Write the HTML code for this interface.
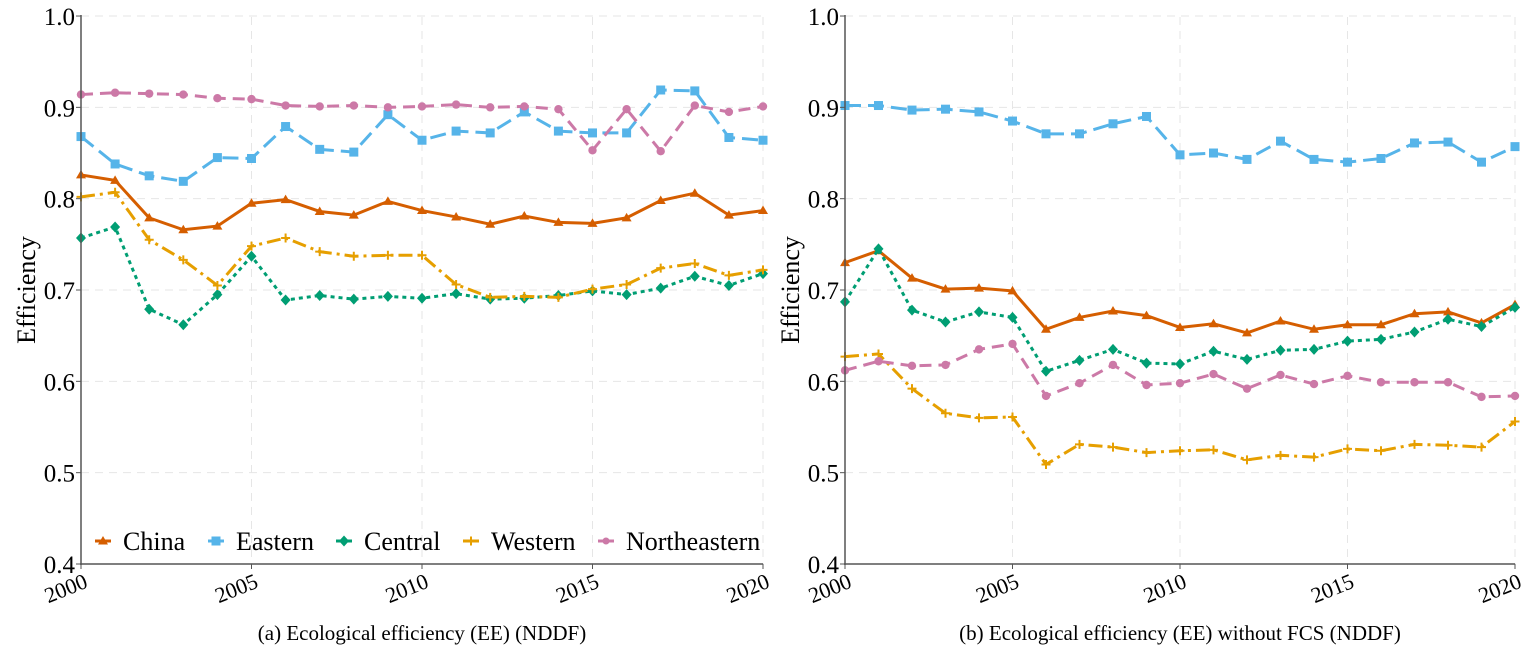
<!DOCTYPE html><html><head><style>body{margin:0;background:#fff}svg{display:block}</style></head><body>
<svg id="s" width="1535" height="655" xmlns="http://www.w3.org/2000/svg" font-family="Liberation Serif, serif"></svg>
<script>
const S=document.getElementById('s');let h='';
const cols={China:'#d55e00',Eastern:'#56b4e9',Central:'#009e73',Western:'#e69f00',Northeastern:'#cc79a7'};
const dash={China:'',Eastern:'16,7',Central:'4,4',Western:'14,5,3,5',Northeastern:'12,7'};
const A={China:[.826,.820,.779,.766,.770,.795,.799,.786,.782,.797,.787,.780,.772,.781,.774,.773,.779,.798,.806,.782,.787],
Eastern:[.868,.838,.825,.819,.845,.844,.879,.854,.851,.892,.864,.874,.872,.895,.874,.872,.872,.919,.918,.867,.864],
Central:[.757,.769,.679,.662,.695,.737,.689,.694,.690,.693,.691,.696,.690,.691,.694,.699,.695,.702,.715,.705,.718],
Western:[.802,.807,.755,.733,.705,.748,.757,.742,.737,.738,.738,.706,.692,.693,.692,.701,.706,.724,.729,.716,.722],
Northeastern:[.914,.916,.915,.914,.910,.909,.902,.901,.902,.900,.901,.903,.900,.901,.898,.853,.898,.852,.902,.895,.901]};
const B={China:[.730,.743,.713,.701,.702,.699,.657,.670,.677,.672,.659,.663,.653,.666,.657,.662,.662,.674,.676,.664,.684],
Eastern:[.902,.902,.897,.898,.895,.885,.871,.871,.882,.890,.848,.850,.843,.863,.843,.840,.844,.861,.862,.840,.857],
Central:[.687,.745,.678,.665,.676,.670,.611,.623,.635,.620,.619,.633,.624,.634,.635,.644,.646,.654,.668,.660,.681],
Western:[.627,.630,.592,.565,.560,.561,.509,.531,.528,.522,.524,.525,.514,.519,.517,.526,.524,.531,.530,.528,.556],
Northeastern:[.612,.622,.617,.618,.635,.641,.584,.598,.618,.596,.598,.608,.592,.607,.597,.606,.599,.599,.599,.583,.584]};
function mk(n,x,y,c){const r=4.2;
 if(n=='China')return `<polygon points="${x},${y-5} ${x+5},${y+3.5} ${x-5},${y+3.5}" fill="${c}"/>`;
 if(n=='Eastern')return `<rect x="${x-4.5}" y="${y-4.5}" width="9" height="9" fill="${c}"/>`;
 if(n=='Central')return `<polygon points="${x},${y-5.5} ${x+5},${y} ${x},${y+5.5} ${x-5},${y}" fill="${c}"/>`;
 if(n=='Western')return `<path d="M${x-4.5},${y}H${x+4.5}M${x},${y-4.5}V${y+4.5}" stroke="${c}" stroke-width="2"/>`;
 return `<circle cx="${x}" cy="${y}" r="${r}" fill="${c}"/>`;}
function panel(x0,x1,D,title,leg){
 const Y=v=>564-(v-0.4)*913.3,X=i=>x0+(x1-x0)*i/20;
 for(let v=0.5;v<=1.001;v+=0.1)h+=`<line x1="${x0}" x2="${x1}" y1="${Y(v)}" y2="${Y(v)}" stroke="#e6e6e6" stroke-dasharray="8,6"/>`;
 for(let i=5;i<=20;i+=5)h+=`<line x1="${X(i)}" x2="${X(i)}" y1="17" y2="564" stroke="#e6e6e6" stroke-dasharray="8,6"/>`;
 for(const n in D){const c=cols[n];
  h+=`<polyline fill="none" stroke="${c}" stroke-width="3" stroke-dasharray="${dash[n]}" points="${D[n].map((v,i)=>X(i)+','+Y(v)).join(' ')}"/>`;
  D[n].forEach((v,i)=>h+=mk(n,X(i),Y(v),c));}
 h+=`<line x1="${x0}" x2="${x0}" y1="15" y2="565" stroke="#555" stroke-width="1.5"/><line x1="${x0-1}" x2="${x1}" y1="564" y2="564" stroke="#555" stroke-width="1.5"/>`;
 for(let k=0;k<=6;k++){const v=0.4+k*0.1;h+=`<line x1="${x0-5}" x2="${x0}" y1="${Y(v)}" y2="${Y(v)}" stroke="#555"/><text x="${x0-6}" y="${Y(v)+9}" font-size="25" text-anchor="end">${v.toFixed(1)}</text>`;}
 for(let i=0;i<=20;i+=5){h+=`<line x1="${X(i)}" x2="${X(i)}" y1="564" y2="569" stroke="#555"/><text transform="translate(${X(i)+2},${572}) rotate(-22)" font-size="22" text-anchor="end" dominant-baseline="hanging">${2000+i}</text>`;}
 h+=`<text transform="translate(${x0-46},290) rotate(-90)" font-size="26" text-anchor="middle">Efficiency</text>`;
 h+=`<text x="${(x0+x1)/2}" y="640" font-size="21" text-anchor="middle">${title}</text>`;
 if(leg){const L=[['China',95],['Eastern',208],['Central',336],['Western',463],['Northeastern',598]];
  L.forEach(([n,x])=>{const c=cols[n];h+=`<line x1="${x}" x2="${x+16}" y1="541" y2="541" stroke="${c}" stroke-width="3"/>`+mk(n,x+8,541,c).replace(/r="4.2"/,'r="3.5"')+`<text x="${x+28}" y="550" font-size="26">${n}</text>`;});}
}
panel(81,763,A,'(a) Ecological efficiency (EE) (NDDF)',true);
panel(845,1515,B,'(b) Ecological efficiency (EE) without FCS (NDDF)',false);
S.innerHTML=h;
</script></body></html>
